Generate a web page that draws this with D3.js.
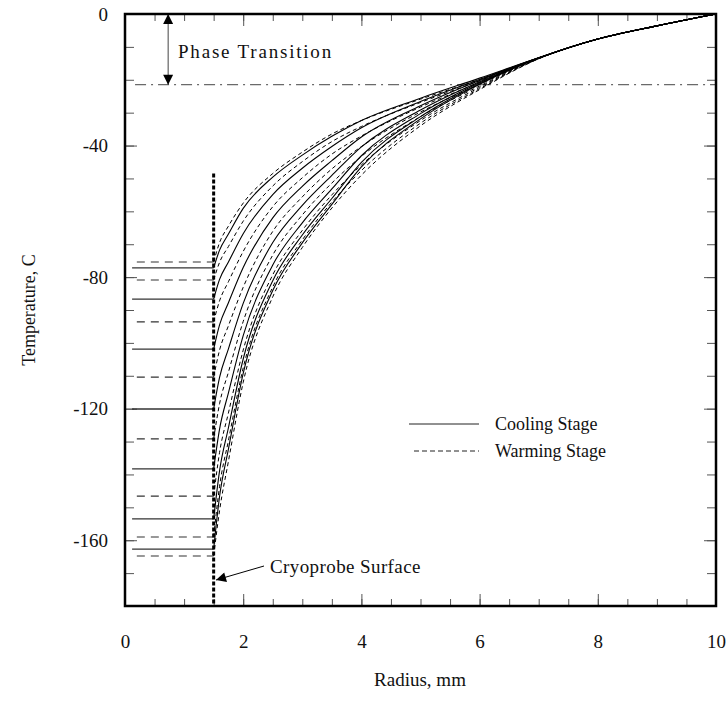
<!DOCTYPE html>
<html>
<head>
<meta charset="utf-8">
<script src="https://cdn.jsdelivr.net/npm/d3@7"></script>
<style>
body { margin: 0; background: #fff; }
svg text { font-family: "Liberation Serif", "Times New Roman", serif; fill: #111; }
</style>
</head>
<body>
<svg></svg>
<script>
// radius grid (mm) shared by every profile
var radius = [1.5, 1.6, 1.75, 2, 2.5, 3, 3.5, 4, 5, 6, 7, 8, 9, 10];

// cooling stage temperature profiles, C
var coolingCurves = [
    [-77.2, -71.8, -66.9, -59.1, -49.6, -42.9, -37.2, -32.4, -25.6, -19.5, -13.3, -7.6, -3.6, 0],
    [-86.7, -80.7, -75.4, -66.8, -54.9, -46.9, -40.3, -34.6, -26.6, -19.9, -13.3, -7.6, -3.6, 0],
    [-101.9, -94.5, -87.8, -77.1, -62.0, -52.4, -44.6, -37.4, -27.9, -20.2, -13.3, -7.6, -3.6, 0],
    [-120.1, -110.5, -101.8, -88.0, -69.5, -58.2, -49.1, -40.4, -29.2, -20.6, -13.4, -7.6, -3.6, 0],
    [-138.3, -126.2, -115.2, -97.8, -76.3, -63.5, -53.2, -43.1, -30.3, -20.9, -13.4, -7.6, -3.6, 0],
    [-153.5, -138.9, -125.8, -104.9, -81.1, -67.2, -56.1, -45.1, -31.2, -21.2, -13.4, -7.6, -3.6, 0],
    [-162.7, -146.7, -132.3, -109.3, -84.1, -69.6, -57.9, -46.5, -31.9, -21.4, -13.4, -7.6, -3.6, 0]
];

// warming stage temperature profiles, C
var warmingCurves = [
    [-75.4, -69.5, -64.5, -57.5, -48.5, -42.0, -36.5, -32.4, -25.9, -19.9, -13.3, -7.6, -3.6, 0],
    [-80.9, -75.5, -70.7, -63.0, -52.3, -44.9, -38.8, -34.2, -26.9, -20.3, -13.4, -7.6, -3.6, 0],
    [-93.6, -87.2, -81.4, -72.2, -58.6, -49.8, -42.6, -37.1, -28.3, -20.8, -13.4, -7.6, -3.6, 0],
    [-110.4, -102.2, -94.8, -83.1, -66.1, -55.6, -47.1, -40.3, -29.8, -21.4, -13.5, -7.6, -3.6, 0],
    [-129.2, -118.5, -108.9, -93.5, -73.3, -61.1, -51.4, -43.3, -31.2, -21.9, -13.5, -7.6, -3.6, 0],
    [-146.6, -133.3, -121.3, -102.2, -79.3, -65.8, -55.0, -45.9, -32.4, -22.3, -13.6, -7.6, -3.6, 0],
    [-159.0, -143.6, -129.7, -107.6, -83.0, -68.7, -57.2, -47.6, -33.2, -22.7, -13.6, -7.6, -3.6, 0],
    [-164.8, -151.0, -136.0, -112.0, -86.0, -71.0, -59.0, -49.0, -34.0, -23.0, -13.6, -7.6, -3.6, 0]
];

var xTicks = [0, 2, 4, 6, 8, 10];
var yTicks = [0, -40, -80, -120, -160];
var phaseTemp = -21.5;
var probeRadius = 1.5;
var probeTop = -48.5;

    var width = 728;
    var height = 707;

    const svg = d3.select("svg")
        .attr('width', width)
        .attr('height', height);

    var x = d3.scaleLinear().domain([0, 10]).range([125, 716]);
    var y = d3.scaleLinear().domain([0, -180]).range([14, 606]);

    var defs = svg.append('defs');
    defs.append('marker')
        .attr('id', 'tri')
        .attr('viewBox', '0 0 10 10')
        .attr('refX', 10)
        .attr('refY', 5)
        .attr('markerUnits', 'userSpaceOnUse')
        .attr('markerWidth', 15)
        .attr('markerHeight', 10)
        .attr('orient', 'auto-start-reverse')
        .append('path')
        .attr('d', 'M0,0L10,5L0,10Z')
        .attr('fill', '#000');

// ticks, all pointing inward
    var minorX = d3.range(0, 10.01, 0.5);
    var minorY = d3.range(0, -180.01, -10);

    svg.append('g')
        .attr('transform', 'translate(0,606)')
        .call(d3.axisBottom(x).tickValues(minorX).tickSize(-7).tickFormat(''));
    svg.append('g')
        .attr('transform', 'translate(0,606)')
        .call(d3.axisBottom(x).tickValues(xTicks).tickSize(-12).tickPadding(29).tickFormat(d => String(d)));
    svg.append('g')
        .attr('transform', 'translate(0,14)')
        .call(d3.axisTop(x).tickValues(minorX).tickSize(-7).tickFormat(''));
    svg.append('g')
        .attr('transform', 'translate(0,14)')
        .call(d3.axisTop(x).tickValues(xTicks).tickSize(-12).tickFormat(''));
    svg.append('g')
        .attr('transform', 'translate(125,0)')
        .call(d3.axisLeft(y).tickValues(minorY).tickSize(-9).tickFormat(''));
    svg.append('g')
        .attr('transform', 'translate(125,0)')
        .call(d3.axisLeft(y).tickValues(yTicks).tickSize(-12).tickPadding(17).tickFormat(d => String(d)));
    svg.append('g')
        .attr('transform', 'translate(716,0)')
        .call(d3.axisRight(y).tickValues(minorY).tickSize(-9).tickFormat(''));
    svg.append('g')
        .attr('transform', 'translate(716,0)')
        .call(d3.axisRight(y).tickValues(yTicks).tickSize(-12).tickFormat(''));

    svg.selectAll('.domain').remove();
    svg.selectAll('.tick line').attr('stroke', '#555').attr('stroke-width', 1);
    svg.selectAll('.tick text')
        .attr('font-size', 19)
        .attr('font-family', '"Liberation Serif", serif')
        .attr('fill', '#111');

// phase transition line and arrow
    svg.append('line')
        .attr('x1', x(0.17)).attr('x2', x(10))
        .attr('y1', y(phaseTemp)).attr('y2', y(phaseTemp))
        .attr('stroke', '#444')
        .attr('stroke-width', 1)
        .attr('stroke-dasharray', '11,5,2,5');

    svg.append('line')
        .attr('x1', x(0.73)).attr('x2', x(0.73))
        .attr('y1', y(0)).attr('y2', y(phaseTemp))
        .attr('stroke', '#444')
        .attr('stroke-width', 1)
        .attr('marker-start', 'url(#tri)')
        .attr('marker-end', 'url(#tri)');

    svg.append('text')
        .attr('x', 178).attr('y', 58)
        .attr('font-size', 19)
        .attr('letter-spacing', 1.8)
        .text('Phase Transition');

// surface temperature markers at the left
    var line = d3.line()
        .x((d, i) => x(radius[i]))
        .y(d => y(d))
        .curve(d3.curveMonotoneX);

    svg.append('g').selectAll('line')
        .data(coolingCurves)
        .join('line')
        .attr('x1', x(0.12)).attr('x2', x(probeRadius))
        .attr('y1', d => y(d[0])).attr('y2', d => y(d[0]))
        .attr('stroke', '#333')
        .attr('stroke-width', 1.3);

    svg.append('g').selectAll('line')
        .data(warmingCurves)
        .join('line')
        .attr('x1', x(0.2)).attr('x2', x(probeRadius))
        .attr('y1', d => y(d[0])).attr('y2', d => y(d[0]))
        .attr('stroke', '#333')
        .attr('stroke-width', 1.1)
        .attr('stroke-dasharray', '8,6');

// profiles
    svg.append('g').selectAll('path')
        .data(coolingCurves)
        .join('path')
        .attr('d', line)
        .attr('fill', 'none')
        .attr('stroke', '#000')
        .attr('stroke-width', 1.1);

    svg.append('g').selectAll('path')
        .data(warmingCurves)
        .join('path')
        .attr('d', line)
        .attr('fill', 'none')
        .attr('stroke', '#000')
        .attr('stroke-width', 1)
        .attr('stroke-dasharray', '4,3');

// cryoprobe surface
    svg.append('line')
        .attr('x1', x(probeRadius)).attr('x2', x(probeRadius))
        .attr('y1', y(probeTop)).attr('y2', y(-180))
        .attr('stroke', '#000')
        .attr('stroke-width', 3)
        .attr('stroke-dasharray', '4,2');

    svg.append('line')
        .attr('x1', 264).attr('y1', 566)
        .attr('x2', 216).attr('y2', 580)
        .attr('stroke', '#000')
        .attr('stroke-width', 1)
        .attr('marker-end', 'url(#tri)');

    svg.append('text')
        .attr('x', 270).attr('y', 573)
        .attr('font-size', 19)
        .attr('letter-spacing', 0.4)
        .text('Cryoprobe Surface');

// legend
    var legendRows = [
        {label: 'Cooling Stage', dash: null, x1: 409, y: 424},
        {label: 'Warming Stage', dash: '5,3', x1: 414, y: 451}
    ];
    legendRows.forEach(r => {
        svg.append('line')
            .attr('x1', r.x1).attr('x2', 479)
            .attr('y1', r.y).attr('y2', r.y)
            .attr('stroke', '#222')
            .attr('stroke-width', 1)
            .attr('stroke-dasharray', r.dash);
        svg.append('text')
            .attr('x', 495).attr('y', r.y + 6)
            .attr('font-size', 18)
            .text(r.label);
    });

// frame
    svg.append('rect')
        .attr('x', 125).attr('y', 14)
        .attr('width', 591).attr('height', 592)
        .attr('fill', 'none')
        .attr('stroke', '#000')
        .attr('stroke-width', 2.5);

// axis titles
    svg.append('text')
        .attr('x', 420).attr('y', 686)
        .attr('text-anchor', 'middle')
        .attr('font-size', 19)
        .text('Radius, mm');

    svg.append('text')
        .attr('transform', 'translate(35,310) rotate(-90)')
        .attr('text-anchor', 'middle')
        .attr('font-size', 18)
        .text('Temperature, C');
</script>
</body>
</html>
